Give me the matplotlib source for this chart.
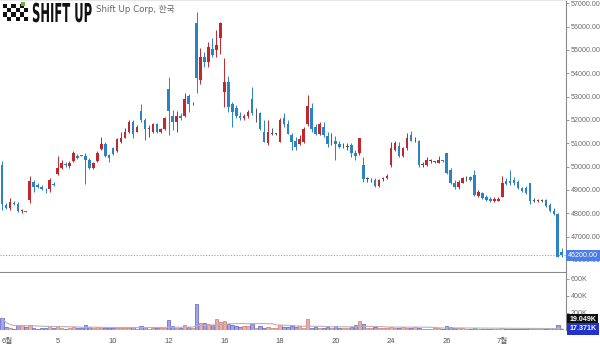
import matplotlib
matplotlib.use('Agg')
import matplotlib.pyplot as plt
import matplotlib.transforms as mtransforms
from matplotlib.patches import Rectangle
from matplotlib.patheffects import AbstractPathEffect
import numpy as np
import pandas as pd

opens = [50080, 48350, 48210, 48450, 48410, 48090, 48090, 48570, 49320, 49210,
         49130, 49040, 49040, 49250, 49670, 49960, 50080, 50030, 50240, 50470,
         50470, 50470, 50270, 49930, 50240, 50770, 50990, 50490, 50780, 50680,
         51070, 51240, 51500, 51900, 51500, 52380, 52000, 51610, 51500, 51810,
         51470, 51610, 53310, 52190, 51900, 52190, 52190, 53040, 52710, 56140,
         53710, 54710, 54500, 55040, 55000, 55530, 53210, 53610, 52680, 52500,
         52180, 52070, 52180, 52900, 52290, 52290, 51500, 51000, 51400, 51400,
         51070, 52100, 51810, 51340, 51100, 50970, 51070, 51810, 52500, 51710,
         51390, 51690, 51300, 51000, 51100, 50990, 50880, 50850, 50930, 50600,
         50570, 50070, 49470, 49380, 49430, 49180, 49470, 49500, 50060, 50710,
         50900, 50470, 50780, 51340, 51210, 51100, 50070, 50070, 50250, 50210,
         50170, 50280, 50570, 49860, 49310, 49110, 49310, 49460, 49570, 49640,
         48740, 48880, 48710, 48630, 48510, 48540, 48710, 49400, 49400, 49430,
         49360, 49070, 49070, 49280, 48540, 48540, 48540, 48570, 48360, 48110,
         47970, 46350]
highs = [50250, 48440, 48640, 48520, 48500, 48200, 48110, 49610, 49430, 49280,
         49200, 49100, 49500, 49320, 50470, 50270, 50210, 50240, 50670, 50550,
         50500, 50570, 50360, 50210, 50670, 51280, 51070, 50560, 50860, 51240,
         51470, 51640, 51990, 51990, 51780, 52670, 52100, 51780, 51880, 51880,
         51670, 52140, 53850, 52430, 52380, 52290, 53140, 53100, 52780, 56640,
         55070, 54930, 55330, 55500, 55860, 56180, 54640, 53900, 52750, 52640,
         52360, 52250, 52430, 53420, 52500, 52360, 51990, 51990, 51640, 51450,
         52070, 52290, 51990, 51430, 51280, 51350, 51700, 53070, 52710, 51810,
         51930, 51930, 51470, 51430, 51330, 51100, 51000, 51000, 51000, 50710,
         51240, 50420, 49570, 49500, 49500, 49470, 49570, 49680, 51070, 51100,
         51040, 50840, 51430, 51520, 51280, 51140, 50210, 50420, 50310, 50250,
         50460, 50300, 50600, 49930, 49420, 49420, 49570, 49600, 49600, 49860,
         48980, 48930, 48780, 48680, 48710, 48680, 49600, 49500, 49860, 49540,
         49430, 49140, 49170, 49310, 48640, 48600, 48600, 48600, 48430, 48210,
         48000, 46500]
lows = [48140, 48170, 48140, 48360, 48040, 48030, 48060, 48430, 48930, 49070,
        48990, 48860, 48900, 49180, 49640, 49880, 50000, 49960, 50200, 50310,
        50440, 49240, 49890, 49890, 50200, 50710, 50420, 50190, 50500, 50640,
        51000, 51210, 51430, 51210, 51480, 51930, 51140, 51280, 51430, 51430,
        51430, 51570, 51350, 51570, 51500, 52000, 52140, 52330, 52640, 53140,
        53530, 54280, 54280, 54710, 54710, 54810, 52570, 52360, 51710, 52070,
        52000, 52000, 52070, 52210, 51930, 51570, 51040, 50930, 51360, 51360,
        51040, 51710, 51380, 50710, 50710, 50930, 51000, 51760, 51500, 51340,
        51340, 51280, 50850, 50930, 50280, 50780, 50780, 50700, 50430, 50280,
        50510, 49330, 49330, 49330, 49140, 49140, 49380, 49470, 49970, 50660,
        50430, 50410, 50710, 51100, 51070, 49970, 50000, 50040, 50140, 50170,
        50140, 50200, 49690, 49260, 49060, 49060, 49280, 49380, 49380, 48740,
        48680, 48600, 48540, 48490, 48490, 48510, 48680, 49210, 49210, 49210,
        49030, 48930, 48820, 48400, 48500, 48500, 48500, 48260, 48070, 47940,
        46110, 46110]
closes = [48390, 48240, 48500, 48390, 48100, 48120, 48070, 49380, 49140, 49110,
          49030, 49030, 49410, 49220, 49930, 50160, 50070, 50140, 50570, 50360,
          50460, 50270, 49930, 50160, 50570, 50990, 50470, 50350, 50550, 51190,
          51210, 51500, 51900, 51380, 51710, 52000, 51610, 51610, 51810, 51500,
          51610, 52070, 52390, 51900, 52190, 52070, 52900, 52680, 52710, 53810,
          54710, 54500, 55130, 54790, 55230, 56140, 53610, 52570, 52350, 52180,
          52070, 52180, 52320, 52290, 52290, 51610, 51070, 51500, 51400, 51400,
          51990, 51810, 51390, 51070, 50860, 51180, 51610, 52600, 51600, 51390,
          51810, 51360, 50960, 51000, 50990, 50840, 50880, 50850, 50570, 50470,
          51210, 49470, 49470, 49380, 49180, 49430, 49470, 49610, 50780, 51000,
          50470, 50780, 51210, 51100, 51210, 50060, 50070, 50280, 50250, 50210,
          50280, 50250, 49710, 49310, 49110, 49360, 49500, 49460, 49430, 48780,
          48930, 48640, 48570, 48510, 48630, 48630, 49280, 49260, 49280, 49280,
          49070, 48970, 48880, 48540, 48540, 48570, 48540, 48310, 48110, 47970,
          46140, 46200]
volumes_k = [141, 35, 20, 16, 55, 55, 35, 55, 28, 16,
             20, 28, 43, 20, 43, 28, 13, 20, 35, 28,
             20, 59, 35, 28, 35, 24, 28, 20, 28, 24,
             28, 28, 24, 35, 16, 51, 35, 16, 20, 20,
             28, 24, 114, 51, 28, 20, 55, 39, 28, 310,
             86, 86, 67, 59, 126, 98, 106, 75, 59, 47,
             35, 47, 47, 67, 28, 47, 28, 39, 28, 20,
             59, 35, 35, 47, 35, 47, 28, 126, 28, 35,
             20, 28, 35, 20, 43, 28, 20, 20, 35, 59,
             106, 67, 28, 20, 35, 20, 24, 24, 35, 20,
             20, 35, 28, 20, 35, 20, 16, 16, 12, 24,
             20, 12, 47, 35, 28, 20, 20, 12, 16, 28,
             16, 16, 14, 16, 14, 14, 20, 16, 14, 16,
             16, 14, 16, 20, 14, 14, 14, 16, 28, 28,
             63, 17.371]
tick_pos = [0, 14, 28, 42, 56, 70, 84, 98, 112, 126]
tick_labels = ['6월', '5', '10', '12', '16', '18', '20', '24', '26', '7월']
price_ticks = list(range(46000, 57001, 1000))
vol_ticks = [200, 400, 600]
last_price = 46200
title_main = 'SHIFT UP'
title_sub = 'Shift Up Corp, 한국'

UP = '#c1272d'
DOWN = '#2b83c6'
DOJI = '#555555'
VUP_F, VUP_E = '#f2aaa4', '#d98580'
VDN_F, VDN_E = '#a3a3ec', '#6f6fd6'
FAM = ['DejaVu Sans', 'Noto Sans CJK KR']
NUMFAM = ['Liberation Sans', 'Noto Sans CJK KR']


class Stretch(AbstractPathEffect):
    """Vertically stretches a text about its baseline (display coords)."""
    def __init__(self, sy, y0):
        super().__init__()
        self.sy = sy
        self.y0 = y0

    def draw_path(self, renderer, gc, tpath, affine, rgbFace=None):
        extra = mtransforms.Affine2D().translate(0, -self.y0).scale(1, self.sy).translate(0, self.y0)
        renderer.draw_path(gc, tpath, affine + extra, rgbFace)


W, H = 600, 348
fig = plt.figure(figsize=(6, 3.48), dpi=100)
fig.patch.set_facecolor('white')


def frac(x0, y0, x1, y1):
    return [x0 / W, 1 - y1 / H, (x1 - x0) / W, (y1 - y0) / H]


ax = fig.add_axes(frac(0, 0, 566, 272))
axv = fig.add_axes(frac(0, 273, 566, 330), sharex=ax)

n = len(opens)
idx = np.arange(n)
o = np.array(opens); c = np.array(closes); hi = np.array(highs); lo = np.array(lows)
cols = np.where(c > o, UP, np.where(c < o, DOWN, DOJI))

ax.vlines(idx, lo, hi, colors=cols, linewidths=0.7, zorder=2)
body_h = np.maximum(np.abs(c - o), 25)
ax.bar(idx, body_h, bottom=np.minimum(o, c), width=0.66, color=cols,
       linewidth=0, zorder=3)

ax.set_xlim(-0.5, 142.07)
ax.set_ylim(45484, 57141)
ax.axhline(last_price, color='#6aa6e0', ls=(0, (1, 1.5)), lw=0.8, zorder=1)

ax.spines['left'].set_visible(False)
ax.spines['top'].set_color('#e6e6e6')
ax.spines['top'].set_linewidth(0.8)
ax.spines['right'].set_color('#8a8a8a')
ax.spines['right'].set_linewidth(0.8)
ax.spines['bottom'].set_color('#8a8a8a')
ax.spines['bottom'].set_linewidth(0.8)
ax.yaxis.tick_right()
ax.set_yticks(price_ticks)
ax.set_yticklabels([f'{v:.2f}' for v in price_ticks], family=NUMFAM)
ax.tick_params(axis='y', labelsize=5.1, colors='#8a8a8a', labelcolor='#6a6a6a',
               length=2.5, width=0.6, pad=0.8)
ax.tick_params(axis='x', bottom=False, labelbottom=False)

blend = mtransforms.blended_transform_factory(ax.transAxes, ax.transData)
ax.text(1.004, last_price, f'{last_price:.2f}', transform=blend, ha='left',
        va='center', fontsize=5.1, color='white', clip_on=False, zorder=10,
        family=NUMFAM,
        bbox=dict(boxstyle='square,pad=0.3', fc='#4d7ee6', ec='none'))

# volume panel
v = np.array(volumes_k)
vcol_f = np.where(c >= o, VUP_F, VDN_F)
vcol_e = np.where(c >= o, VUP_E, VDN_E)
axv.bar(idx, v, width=0.88, color=vcol_f, edgecolor=vcol_e, linewidth=0.6, zorder=2)
ma = pd.Series(v).rolling(20, min_periods=1).mean()
axv.plot(idx, ma, color='#b5b5b5', lw=0.8, zorder=3)
axv.set_ylim(0, 670)
for s in ['left', 'top', 'bottom']:
    axv.spines[s].set_visible(False)
axv.spines['right'].set_color('#8a8a8a')
axv.spines['right'].set_linewidth(0.8)
axv.yaxis.tick_right()
axv.set_yticks(vol_ticks)
axv.set_yticklabels([f'{t}K' for t in vol_ticks], family=NUMFAM)
axv.tick_params(axis='y', labelsize=5.1, colors='#8a8a8a', labelcolor='#6a6a6a',
                length=2.5, width=0.6, pad=0.8)
axv.set_xticks(tick_pos)
axv.set_xticklabels(tick_labels, fontsize=5.5, color='#555555', family=NUMFAM)
axv.tick_params(axis='x', length=0, pad=6)
axv.get_xticklabels()[0].set_ha('left')

blendv = mtransforms.blended_transform_factory(axv.transAxes, axv.transData)
axv.text(1.006, 118, '19.049K', transform=blendv, ha='left', va='center',
         fontsize=5.1, color='white', fontweight='bold', clip_on=False, zorder=10,
         family=NUMFAM,
         bbox=dict(boxstyle='square,pad=0.3', fc='#111111', ec='none'))
axv.text(1.006, 12, '17.371K', transform=blendv, ha='left', va='center',
         fontsize=5.1, color='white', fontweight='bold', clip_on=False, zorder=10,
         family=NUMFAM,
         bbox=dict(boxstyle='square,pad=0.3', fc='#2233cc', ec='none'))

# logo
logo_ax = fig.add_axes([0, 0, 1, 1], zorder=20)
logo_ax.set_xlim(0, W)
logo_ax.set_ylim(H, 0)
logo_ax.axis('off')
sq = 4.2
for r in range(4):
    for k in range(6):
        if (r + k) % 2 == 0:
            logo_ax.add_patch(Rectangle((3 + k * sq, 4 + r * sq), sq, sq,
                                        fc='#111111', ec='none'))
logo_ax.add_patch(Rectangle((21, 1.5), 4.3, 4.3, fc='#6ab04c', ec='none'))

# title: real text sized to the logo width, then stretched to the logo height
x_logo, base_y = 32, 22
t_main = logo_ax.text(x_logo, base_y, title_main, ha='left', va='baseline',
                      fontsize=19, fontweight='bold', color='#111111',
                      family=['DejaVu Sans'])
renderer = fig.canvas.get_renderer()
bb = t_main.get_window_extent(renderer=renderer)
fs = 19 * 60.0 / bb.width
t_main.set_fontsize(fs)
cap_px = 0.729 * fs * 100 / 72.0
sy = 19.0 / cap_px
y0_disp = logo_ax.transData.transform((x_logo, base_y))[1]
t_main.set_path_effects([Stretch(sy, y0_disp)])
logo_ax.text(96, 12, title_sub, ha='left', va='baseline', fontsize=6.2,
             color='#666666', family=FAM)

fig.savefig('out.png', dpi=100, facecolor='white')
